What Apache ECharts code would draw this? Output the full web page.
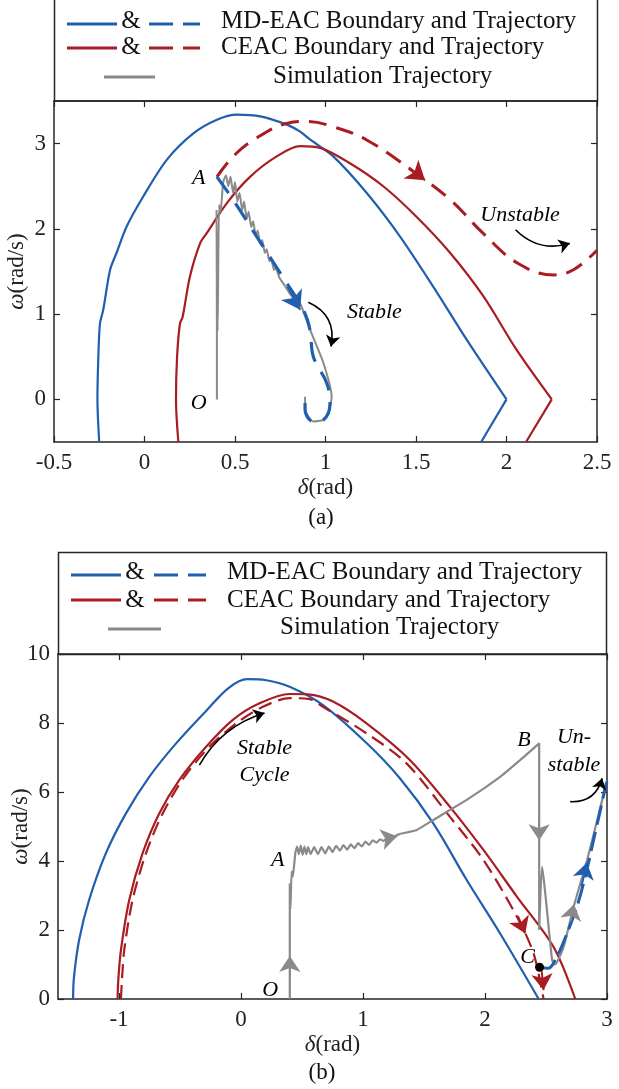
<!DOCTYPE html>
<html>
<head>
<meta charset="utf-8">
<script src="https://cdn.jsdelivr.net/npm/echarts@6.0.0/dist/echarts.min.js"></script>
<style>
  html, body { margin: 0; padding: 0; background: #fff; }
  #chart { width: 619px; height: 1089px; }
</style>
</head>
<body>
<div id="chart"></div>
<script>
// ---------- panel (a) ----------
const aXRange = [-0.5, 2.5]
const aYRange = [-0.5, 3.5]
const aYTicks = [0, 1, 2, 3]

// boundaries: arc up to the corner on the zero line, then the short tail
const aMdArc = [[-0.25, -0.5], [-0.26, 0], [-0.255, 0.5], [-0.246, 0.89], [-0.228, 1.05], [-0.19, 1.52], [-0.154, 1.72], [-0.098, 2.03], [-0.007, 2.38], [0.123, 2.81], [0.27, 3.12], [0.4, 3.28], [0.51, 3.34], [0.64, 3.32], [0.79, 3.22], [0.86, 3.14], [0.914, 3.05], [1.043, 2.85], [1.228, 2.42], [1.412, 1.91], [1.596, 1.32], [1.78, 0.7], [2.0, 0]]
const aMdTail = [[2.0, 0], [1.86, -0.5]]
const aCeacArc = [[0.187, -0.5], [0.174, 0], [0.18, 0.5], [0.196, 0.89], [0.211, 0.97], [0.251, 1.44], [0.307, 1.83], [0.344, 1.95], [0.454, 2.3], [0.583, 2.61], [0.73, 2.85], [0.859, 2.97], [0.97, 2.95], [1.135, 2.77], [1.319, 2.5], [1.504, 2.14], [1.688, 1.72], [1.872, 1.21], [2.056, 0.58], [2.25, 0]]
const aCeacTail = [[2.25, 0], [2.108, -0.5]]

const aCeacTraj = [[0.4, 2.61], [0.49, 2.85], [0.6, 3.04], [0.79, 3.24], [0.9, 3.26], [1.04, 3.2], [1.23, 3.04], [1.5, 2.65], [1.69, 2.34], [1.87, 1.95], [2.06, 1.6], [2.26, 1.46], [2.37, 1.52], [2.5, 1.75]]
const aMdTraj = [[0.4, 2.61], [0.49, 2.34], [0.62, 1.91], [0.75, 1.48], [0.877, 1.05], [0.914, 0.82], [0.933, 0.5], [1.007, 0.19], [1.025, -0.04], [0.988, -0.24], [0.933, -0.26], [0.887, -0.12], [0.887, 0.03]]
const aSim = [[0.4, 0], [0.4, 0.74], [0.398, 2.22], [0.404, 0.8], [0.412, 2.28], [0.42, 2.2], [0.435, 2.55], [0.45, 2.63], [0.463, 2.5], [0.475, 2.61], [0.49, 2.42], [0.5, 2.55], [0.513, 2.32], [0.525, 2.42], [0.54, 2.22], [0.55, 2.32], [0.565, 2.12], [0.575, 2.2], [0.59, 2.02], [0.6, 2.09], [0.615, 1.92], [0.625, 1.98], [0.64, 1.82], [0.65, 1.87], [0.665, 1.72], [0.675, 1.76], [0.69, 1.62], [0.7, 1.65], [0.715, 1.52], [0.725, 1.54], [0.745, 1.43], [0.77, 1.35], [0.8, 1.25], [0.83, 1.17], [0.859, 1.13], [0.914, 0.82], [0.988, 0.43], [1.034, 0.03], [1.016, -0.16], [0.988, -0.24], [0.933, -0.26], [0.887, -0.12], [0.887, 0.03]]

// ---------- panel (b) ----------
const bXRange = [-1.5, 3]
const bXTicks = [-1, 0, 1, 2, 3]
const bYRange = [0, 10]

const bMdBoundary = [[-1.376, 0], [-1.37, 0.6], [-1.327, 1.71], [-1.245, 2.87], [-1.108, 4.22], [-0.943, 5.38], [-0.752, 6.44], [-0.532, 7.41], [-0.286, 8.35], [-0.1, 9.02], [0.05, 9.27], [0.207, 9.24], [0.399, 9.05], [0.672, 8.52], [1.029, 7.42], [1.302, 6.4], [1.576, 5.09], [1.85, 3.45], [2.124, 1.9], [2.44, 0]]
const bCeacBoundary = [[-1.012, 0], [-1.005, 0.6], [-0.984, 1.42], [-0.916, 2.87], [-0.807, 4.22], [-0.67, 5.38], [-0.505, 6.35], [-0.286, 7.31], [-0.067, 8.09], [0.152, 8.57], [0.4, 8.84], [0.55, 8.83], [0.754, 8.62], [1.029, 7.99], [1.384, 6.93], [1.713, 5.57], [1.987, 4.32], [2.261, 2.97], [2.56, 1.52], [2.74, 0]]
const bCeacTraj = [[-0.984, 0], [-0.975, 0.6], [-0.957, 1.42], [-0.889, 2.87], [-0.779, 4.22], [-0.642, 5.38], [-0.464, 6.44], [-0.259, 7.31], [-0.039, 7.99], [0.179, 8.47], [0.399, 8.72], [0.563, 8.69], [0.672, 8.47], [1.029, 7.7], [1.357, 6.83], [1.713, 5.28], [1.987, 4.03], [2.261, 2.39], [2.398, 1.32], [2.48, 0]]
const bMdTraj = [[2.447, 0.92], [2.52, 0.89], [2.59, 1.23], [2.672, 1.9], [2.754, 2.68], [2.822, 3.55], [2.89, 4.61], [2.946, 5.48], [2.987, 6.15], [3.0, 6.3]]
const bSim = [[0.4, 0], [0.4, 3.35], [0.405, 2.6], [0.415, 3.7], [0.425, 3.55], [0.445, 4.22], [0.46, 4.42], [0.475, 4.2], [0.49, 4.45], [0.505, 4.18], [0.52, 4.42], [0.535, 4.2], [0.55, 4.4], [0.57, 4.2], [0.6, 4.4], [0.63, 4.2], [0.66, 4.4], [0.69, 4.22], [0.72, 4.42], [0.75, 4.26], [0.78, 4.44], [0.81, 4.3], [0.84, 4.46], [0.87, 4.33], [0.9, 4.48], [0.93, 4.37], [0.96, 4.52], [0.99, 4.42], [1.02, 4.56], [1.05, 4.47], [1.08, 4.6], [1.11, 4.53], [1.14, 4.63], [1.17, 4.58], [1.2, 4.68], [1.23, 4.64], [1.26, 4.72], [1.3, 4.78], [1.44, 4.9], [1.576, 5.19], [1.85, 5.77], [2.124, 6.44], [2.29, 6.93], [2.444, 7.41], [2.444, 2.0], [2.467, 3.83], [2.55, 1.13], [2.576, 1.0], [2.645, 1.52], [2.727, 2.68], [2.837, 4.03], [2.92, 5.19], [2.987, 6.15], [3.0, 6.3]]

// direction arrows on the trajectories: [from, to]
const aArrows = [
  { color: '#a81c22', coords: [[1.46, 2.72], [1.55, 2.57]] },
  { color: '#1f5fae', coords: [[0.79, 1.32], [0.86, 1.05]] }
]
const bArrows = [
  { color: '#a81c22', coords: [[2.27, 2.4], [2.33, 1.9]] },
  { color: '#a81c22', coords: [[2.465, 0.8], [2.48, 0.26]] },
  { color: '#1f5fae', coords: [[2.79, 3.25], [2.835, 3.95]] },
  { color: '#8a8a8a', coords: [[2.7, 2.25], [2.73, 2.75]] },
  { color: '#8a8a8a', coords: [[2.444, 5.3], [2.444, 4.6]] },
  { color: '#8a8a8a', coords: [[1.18, 4.64], [1.28, 4.72]] },
  { color: '#8a8a8a', coords: [[0.4, 0.6], [0.4, 1.25]] }
]
// curved black pointers: [from, to, curveness]
const aPointers = [[[0.905, 1.14], [1.03, 0.62], 0.4], [[2.05, 1.99], [2.35, 1.83], -0.3]]
const bPointers = [[[-0.341, 6.78], [0.193, 8.29], 0.2], [[2.699, 5.72], [2.96, 6.4], -0.4]]

const aNotes = [['A', 0.3, 2.6], ['O', 0.3, -0.04], ['Stable', 1.27, 1.02], ['Unstable', 2.075, 2.16]]
const bNotes = [['A', 0.3, 4.03], ['O', 0.24, 0.26], ['B', 2.32, 7.5], ['C', 2.35, 1.2], ['Stable', 0.193, 7.28], ['Cycle', 0.193, 6.5], ['Un-', 2.73, 7.6], ['stable', 2.73, 6.78]]
const bDot = [[2.447, 0.92]]

const BLUE = '#1f5fae'
const RED = '#a81c22'
const GRAY = '#8a8a8a'
const AXIS = '#262626'
const FONT = '"Liberation Serif", "Times New Roman", serif'

function xAxis (grid, range, top, ticks, name) {
  const ax = {
    type: 'value',
    gridIndex: grid,
    position: top ? 'top' : 'bottom',
    min: range[0],
    max: range[1],
    interval: 0.5,
    axisLine: { show: true, onZero: false, lineStyle: { color: AXIS, width: 1.5 } },
    axisTick: { show: true, inside: true, length: 6, lineStyle: { color: AXIS, width: 1.2 } },
    axisLabel: { show: !top, color: '#222', fontSize: 23, fontFamily: FONT, margin: 9 },
    splitLine: { show: false }
  }
  if (ticks) {
    ax.axisTick.customValues = ticks
    ax.axisLabel.customValues = ticks
  }
  if (name) {
    ax.name = '{i|δ}(rad)'
    ax.nameLocation = 'middle'
    ax.nameGap = 34
    ax.nameMoveOverlap = false
    ax.nameTextStyle = { color: '#222', fontSize: 23, fontFamily: FONT, rich: { i: { fontStyle: 'italic', fontSize: 23, fontFamily: FONT, color: '#222' } } }
  }
  return ax
}

function yAxis (grid, range, right, ticks, interval, name) {
  const ax = {
    type: 'value',
    gridIndex: grid,
    position: right ? 'right' : 'left',
    min: range[0],
    max: range[1],
    interval: interval,
    axisLine: { show: true, onZero: false, lineStyle: { color: AXIS, width: 1.5 } },
    axisTick: { show: true, inside: true, length: 6, lineStyle: { color: AXIS, width: 1.2 } },
    axisLabel: { show: !right, color: '#222', fontSize: 23, fontFamily: FONT, margin: 8 },
    splitLine: { show: false }
  }
  if (ticks) {
    ax.axisTick.customValues = ticks
    ax.axisLabel.customValues = ticks
  }
  if (name) {
    ax.name = '{i|ω}(rad/s)'
    ax.nameLocation = 'middle'
    ax.nameGap = 26
    ax.nameMoveOverlap = false
    ax.nameTextStyle = { color: '#222', fontSize: 23, fontFamily: FONT, rich: { i: { fontStyle: 'italic', fontSize: 23, fontFamily: FONT, color: '#222' } } }
  }
  return ax
}

function curve (data, color, width, dash, xi, yi, smooth, z) {
  return {
    type: 'line',
    data: data,
    xAxisIndex: xi,
    yAxisIndex: yi,
    showSymbol: false,
    symbol: 'none',
    smooth: smooth,
    silent: true,
    z: z || 2,
    lineStyle: { color: color, width: width, type: dash || 'solid', cap: 'butt' }
  }
}

function arrows (list, xi, yi, size) {
  return list.map(a => ({
    type: 'lines',
    coordinateSystem: 'cartesian2d',
    xAxisIndex: xi,
    yAxisIndex: yi,
    symbol: ['none', 'arrow'],
    symbolSize: size,
    silent: true,
    z: 5,
    lineStyle: { color: a.color, width: 2, opacity: 1 },
    data: [{ coords: a.coords }]
  }))
}

function pointers (list, xi, yi) {
  return list.map(p => ({
    type: 'lines',
    coordinateSystem: 'cartesian2d',
    xAxisIndex: xi,
    yAxisIndex: yi,
    symbol: ['none', 'arrow'],
    symbolSize: 11,
    silent: true,
    z: 6,
    lineStyle: { color: '#000', width: 1.6, opacity: 1, curveness: p[2] },
    data: [{ coords: [p[0], p[1]] }]
  }))
}

function notes (list, xi, yi) {
  return {
    type: 'scatter',
    xAxisIndex: xi,
    yAxisIndex: yi,
    symbolSize: 0,
    silent: true,
    z: 7,
    itemStyle: { opacity: 1 },
    data: list.map(n => ({ name: n[0], value: [n[1], n[2]] })),
    label: { show: true, position: 'inside', formatter: '{b}', color: '#000', opacity: 1, fontSize: 22, fontStyle: 'italic', fontFamily: FONT }
  }
}

function legendBox (x, y, w, h, rows) {
  const els = [{ type: 'rect', shape: { x: x, y: y, width: w, height: h }, style: { fill: '#fff', stroke: AXIS, lineWidth: 1.5 }, z: 0 }]
  rows.forEach(r => {
    if (r.solid) {
      els.push({ type: 'line', shape: { x1: r.solid[0], y1: r.ly, x2: r.solid[1], y2: r.ly }, style: { stroke: r.color, lineWidth: 3 } })
      els.push({ type: 'text', style: { text: '&', x: r.amp, y: r.ty, font: '25px ' + FONT, fill: '#111', align: 'center', verticalAlign: 'middle' } })
      els.push({ type: 'line', shape: { x1: r.dash[0], y1: r.ly, x2: r.dash[1], y2: r.ly }, style: { stroke: r.color, lineWidth: 3, lineDash: [24, 10] } })
    } else {
      els.push({ type: 'line', shape: { x1: r.line[0], y1: r.ly, x2: r.line[1], y2: r.ly }, style: { stroke: r.color, lineWidth: 3 } })
    }
    els.push({ type: 'text', style: { text: r.text, x: r.tx, y: r.ty, font: '25px ' + FONT, fill: '#111', align: 'left', verticalAlign: 'middle' } })
  })
  return els
}

const chart = echarts.init(document.getElementById('chart'), null, { renderer: 'canvas' })

const option = {
  animation: false,
  backgroundColor: '#fff',
  grid: [
    { left: 54, top: 101, width: 543, height: 341, outerBoundsMode: 'none', containLabel: false },
    { left: 58, top: 654, width: 549, height: 345, outerBoundsMode: 'none', containLabel: false }
  ],
  xAxis: [
    xAxis(0, aXRange, false, null, true),
    xAxis(0, aXRange, true, null, false),
    xAxis(1, bXRange, false, bXTicks, true),
    xAxis(1, bXRange, true, bXTicks, false)
  ],
  yAxis: [
    yAxis(0, aYRange, false, aYTicks, 0.5, true),
    yAxis(0, aYRange, true, aYTicks, 0.5, false),
    yAxis(1, bYRange, false, null, 2, true),
    yAxis(1, bYRange, true, null, 2, false)
  ],
  series: [
    curve(aMdArc, BLUE, 2.2, null, 0, 0, 0.3),
    curve(aMdTail, BLUE, 2.2, null, 0, 0, false),
    curve(aCeacArc, RED, 2.2, null, 0, 0, 0.3),
    curve(aCeacTail, RED, 2.2, null, 0, 0, false),
    curve(aCeacTraj, RED, 3, [18, 10], 0, 0, 0.4, 3),
    curve(aSim, GRAY, 2, null, 0, 0, 0.2, 3),
    curve(aMdTraj, BLUE, 3.2, [20, 12], 0, 0, 0.4, 4),
    ...arrows(aArrows, 0, 0, 18),
    ...pointers(aPointers, 0, 0),
    notes(aNotes, 0, 0),

    curve(bMdBoundary, BLUE, 2.2, null, 2, 2, 0.35),
    curve(bCeacBoundary, RED, 2.2, null, 2, 2, 0.3),
    curve(bCeacTraj, RED, 2.2, [14, 7], 2, 2, 0.3, 3),
    curve(bSim, GRAY, 2.2, null, 2, 2, 0.15, 3),
    curve(bMdTraj, BLUE, 3, [20, 7], 2, 2, 0.3, 4),
    ...arrows(bArrows, 2, 2, 16),
    ...pointers(bPointers, 2, 2),
    notes(bNotes, 2, 2),
    {
      type: 'scatter',
      xAxisIndex: 2,
      yAxisIndex: 2,
      symbol: 'circle',
      symbolSize: 9,
      silent: true,
      z: 8,
      itemStyle: { color: '#000', opacity: 1 },
      data: bDot
    }
  ],
  graphic: [
    ...legendBox(54.5, -2, 543, 103, [
      { color: BLUE, solid: [67, 117], dash: [149, 200], amp: 131, ly: 24, tx: 221, ty: 21, text: 'MD-EAC Boundary and Trajectory' },
      { color: RED, solid: [67, 117], dash: [149, 200], amp: 131, ly: 48, tx: 221, ty: 47, text: 'CEAC Boundary and Trajectory' },
      { color: GRAY, line: [104, 155], ly: 77, tx: 273, ty: 76, text: 'Simulation Trajectory' }
    ]),
    ...legendBox(58.5, 552.5, 548, 102, [
      { color: BLUE, solid: [71, 121], dash: [154, 206], amp: 135, ly: 575, tx: 227, ty: 572, text: 'MD-EAC Boundary and Trajectory' },
      { color: RED, solid: [71, 121], dash: [154, 206], amp: 135, ly: 600, tx: 227, ty: 600, text: 'CEAC Boundary and Trajectory' },
      { color: GRAY, line: [108, 161], ly: 629, tx: 280, ty: 627, text: 'Simulation Trajectory' }
    ]),
    { type: 'text', style: { text: '(a)', x: 321, y: 518, font: '23px ' + FONT, fill: '#111', align: 'center', verticalAlign: 'middle' } },
    { type: 'text', style: { text: '(b)', x: 322, y: 1073, font: '23px ' + FONT, fill: '#111', align: 'center', verticalAlign: 'middle' } }
  ]
}

chart.setOption(option)
</script>
</body>
</html>
